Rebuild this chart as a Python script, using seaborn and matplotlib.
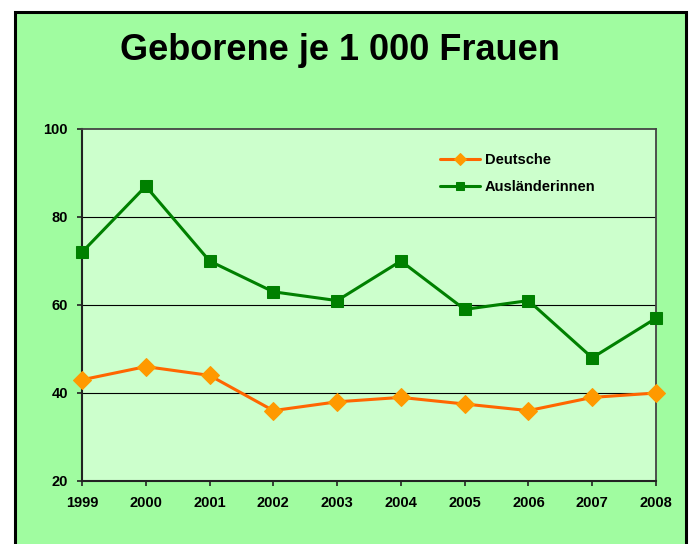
import matplotlib
matplotlib.use("Agg")
import matplotlib.pyplot as plt
import seaborn as sns
import pandas as pd
from matplotlib.patches import Rectangle

years = [1999, 2000, 2001, 2002, 2003, 2004, 2005, 2006, 2007, 2008]
deutsche = [43, 46, 44, 36, 38, 39, 37.5, 36, 39, 40]
auslaenderinnen = [72, 87, 70, 63, 61, 70, 59, 61, 48, 57]
series_names = ["Deutsche", "Ausländerinnen"]
title = "Geborene je 1 000 Frauen"
y_ticks = [20, 40, 60, 80, 100]

df = pd.DataFrame({
    "Jahr": years * 2,
    "Wert": deutsche + auslaenderinnen,
    "Gruppe": [series_names[0]] * len(years) + [series_names[1]] * len(years),
})

sns.set_theme(style="white")
plt.rcParams['font.family'] = ['Liberation Sans', 'DejaVu Sans']
plt.rcParams['text.color'] = 'black'

fig = plt.figure(figsize=(6.94, 5.44), dpi=100)
fig.patch.set_facecolor("white")
frame = Rectangle((15 / 694, -0.05), (686 - 15) / 694, 1 - 12 / 544 + 0.05,
                  transform=fig.transFigure, facecolor="#a0fca0",
                  edgecolor="black", linewidth=2.2, zorder=-10)
fig.patches.append(frame)

ax = fig.add_axes([82 / 694, 1 - 481 / 544, (656 - 82) / 694, (481 - 129) / 544])
ax.set_facecolor("#ccffcc")

sns.lineplot(data=df, x="Jahr", y="Wert", hue="Gruppe", style="Gruppe",
             palette={series_names[0]: "#ff6600", series_names[1]: "#008000"},
             markers={series_names[0]: "D", series_names[1]: "s"},
             dashes=False, linewidth=2.2, markersize=9, ax=ax, zorder=3)

for line in ax.lines:
    line.set_clip_on(False)
    if line.get_color() == "#ff6600":
        line.set_markerfacecolor("#ff9900")
        line.set_markeredgecolor("#ff9900")
    else:
        line.set_markerfacecolor("#008000")
        line.set_markeredgecolor("#008000")

ax.set_xlim(years[0], years[-1])
ax.set_ylim(20, 100)
ax.set_xticks(years)
ax.set_xticklabels([str(y) for y in years])
ax.set_yticks(y_ticks)
ax.set_xlabel("")
ax.set_ylabel("")

for yv in [40, 60, 80]:
    ax.axhline(yv, color="black", linewidth=0.8, zorder=1)

for s in ["left", "bottom"]:
    ax.spines[s].set_color("#222222")
    ax.spines[s].set_linewidth(1.5)
for s in ["top", "right"]:
    ax.spines[s].set_color("#444444")
    ax.spines[s].set_linewidth(1.3)

ax.tick_params(axis="both", which="major", direction="out", length=3.6, width=1.2,
               color="#222222", labelsize=10.5, labelcolor="black",
               left=True, bottom=True)
ax.tick_params(axis="x", pad=7)
ax.tick_params(axis="y", pad=6.5)
for lbl in ax.get_xticklabels() + ax.get_yticklabels():
    lbl.set_fontweight("bold")

leg = ax.legend(loc="upper left", bbox_to_anchor=(0.6, 0.97), frameon=False,
                fontsize=10.5, handlelength=2.8, handletextpad=0.3, labelspacing=0.9)
for t in leg.get_texts():
    t.set_fontweight("bold")
    t.set_color("black")
for h in leg.legend_handles:
    h.set_markersize(6)

fig.text(340 / 694, 1 - 60 / 544, title, ha="center", va="baseline",
         fontsize=26, fontweight="bold", color="black")

fig.savefig("out.png", dpi=100)
